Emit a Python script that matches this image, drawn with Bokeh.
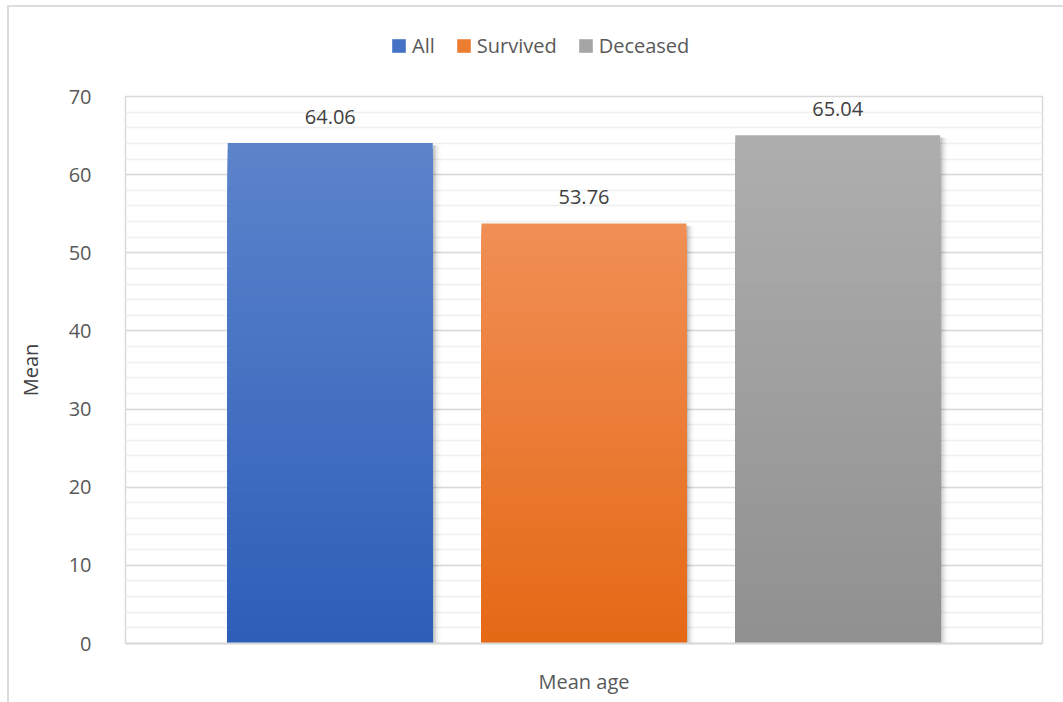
from bokeh.plotting import figure
from bokeh.layouts import column
from bokeh.models import (Range1d, FixedTicker, Legend, LegendItem, ColumnDataSource,
                          LabelSet)
from bokeh.core.properties import value
from bokeh.embed import file_html
from bokeh.resources import INLINE

# Data
category = "Mean age"
series = ["All", "Survived", "Deceased"]
means = [64.06, 53.76, 65.04]
y_ticks = [0, 10, 20, 30, 40, 50, 60, 70]

# Gradient colours per series (top, bottom)
top_colors = [(0x5C, 0x84, 0xCB), (0xF0, 0x8F, 0x56), (0xAE, 0xAE, 0xAE)]
bottom_colors = [(0x2D, 0x5E, 0xB8), (0xE5, 0x69, 0x15), (0x90, 0x90, 0x90)]
swatch_colors = ["#4472C4", "#ED7D31", "#A5A5A5"]

FONT = "Open Sans"
TEXT = "#595959"
GRID = "#D9D9D9"

W = 1054

# ---- legend strip across the top ----
leg = figure(width=W, height=75, output_backend="svg", toolbar_location=None,
             x_range=Range1d(0, W), y_range=Range1d(0, 75),
             x_axis_type=None, y_axis_type=None,
             min_border_left=0, min_border_right=0, min_border_top=0, min_border_bottom=0)
leg.outline_line_color = None
leg.grid.grid_line_color = None
leg.background_fill_color = "white"
leg.border_fill_color = "white"

items = []
for name, c in zip(series, swatch_colors):
    # zero-area proxy glyph: only its legend swatch is visible
    r = leg.quad(left=[0], right=[0], bottom=[0], top=[0], fill_color=c, line_color=None)
    items.append(LegendItem(label=name, renderers=[r]))
legend = Legend(items=items, orientation="horizontal", location=(265, 23),
                border_line_color=None, background_fill_alpha=0,
                label_text_font=FONT, label_text_font_size="20px", label_text_color=TEXT,
                glyph_width=17, glyph_height=17, label_standoff=5, spacing=20,
                padding=0, margin=0)
leg.add_layout(legend, "center")

# ---- main bar chart ----
p = figure(width=W, height=620, output_backend="svg", toolbar_location=None,
           x_range=Range1d(0, 1), y_range=Range1d(0, 70),
           min_border_left=116, min_border_right=21, min_border_top=14, min_border_bottom=59)

p.outline_line_color = GRID
p.outline_line_width = 1.5
p.background_fill_color = "white"
p.border_fill_color = "white"

# Grid
p.xgrid.grid_line_color = None
p.ygrid.grid_line_color = GRID
p.ygrid.grid_line_width = 1.5
p.ygrid.minor_grid_line_color = "#EFEFEF"
p.ygrid.minor_grid_line_width = 1.5

# Y axis
p.yaxis.ticker = FixedTicker(ticks=y_ticks, minor_ticks=list(range(0, 71, 2)))
p.yaxis.axis_line_color = None
p.yaxis.major_tick_line_color = None
p.yaxis.minor_tick_line_color = None
p.yaxis.major_label_text_font = FONT
p.yaxis.major_label_text_font_size = "20px"
p.yaxis.major_label_text_color = TEXT
p.yaxis.major_label_standoff = 28
p.yaxis.axis_label = "Mean"
p.yaxis.axis_label_text_font = FONT
p.yaxis.axis_label_text_font_size = "20px"
p.yaxis.axis_label_text_font_style = "normal"
p.yaxis.axis_label_text_color = "#404040"
p.yaxis.axis_label_standoff = 22

# X axis: single category
p.xaxis.ticker = FixedTicker(ticks=[0.5])
p.xaxis.major_label_overrides = {0.5: category}
p.xaxis.axis_line_color = GRID
p.xaxis.axis_line_width = 2
p.xaxis.major_tick_line_color = None
p.xaxis.minor_tick_line_color = None
p.xaxis.major_label_text_font = FONT
p.xaxis.major_label_text_font_size = "20px"
p.xaxis.major_label_text_color = TEXT
p.xaxis.major_label_standoff = 18

# Bar slots within the category
bar_width = 0.2236
slot_step = 0.2767
centers = [0.5 + (i - 1) * slot_step for i in range(len(series))]

def mix(c1, c2, t):
    return "#%02X%02X%02X" % tuple(int(round(a + (b - a) * t)) for a, b in zip(c1, c2))

N = 80
for i, (name, v) in enumerate(zip(series, means)):
    left = centers[i] - bar_width / 2
    right = centers[i] + bar_width / 2
    # soft shadow to the right of the bar
    for k, a in enumerate([0.10, 0.07, 0.045, 0.025, 0.012]):
        p.quad(left=[right], right=[right + (k + 1) * 0.0018], bottom=[0], top=[v - 0.3],
               fill_color="black", fill_alpha=a, line_color=None)
    # vertical gradient: nested quads from the top colour down, each drawn over the last
    tops, colors = [], []
    for k in range(N, 0, -1):
        tops.append(v * k / N)
        colors.append(mix(bottom_colors[i], top_colors[i], (k - 0.5) / N))
    src = ColumnDataSource(dict(top=tops, color=colors, bottom=[0] * N,
                                left=[left] * N, right=[right] * N))
    p.quad(left="left", right="right", bottom="bottom", top="top", source=src,
           fill_color="color", line_color=None)

# Value labels
lab_src = ColumnDataSource(dict(x=centers, y=means, text=["%.2f" % m for m in means]))
p.add_layout(LabelSet(x="x", y="y", text="text", source=lab_src, text_align="center",
                      text_baseline="bottom", y_offset=19, text_font=value(FONT),
                      text_font_size="20px", text_color="#404040"))

layout = column(leg, p, spacing=0)
layout.styles = {"margin-left": "7px", "margin-top": "5px",
                 "border-top": "2px solid #DCDCDC", "border-left": "2px solid #DCDCDC"}

open("out.html", "w").write(file_html(layout, INLINE))
